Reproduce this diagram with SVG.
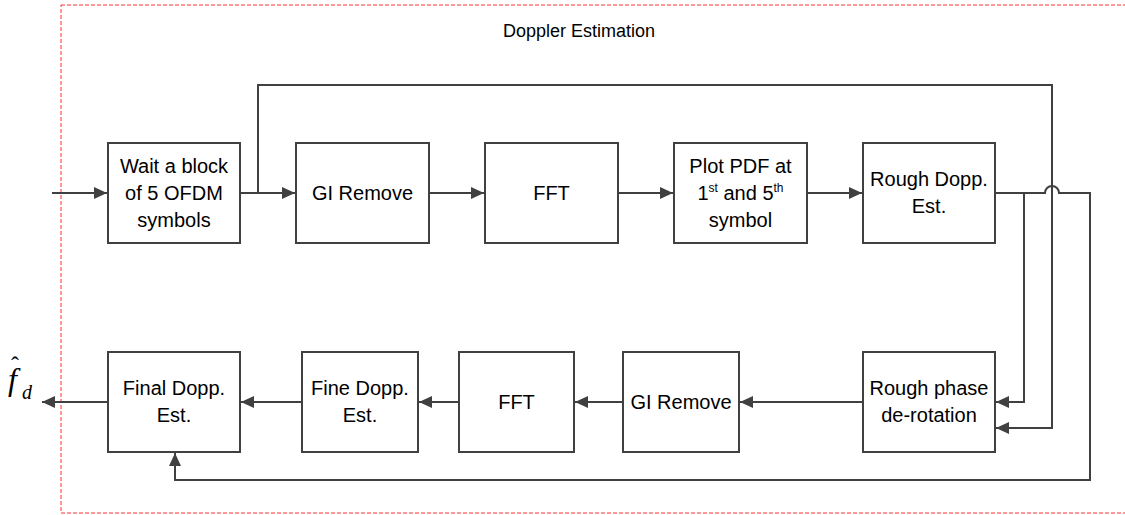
<svg xmlns="http://www.w3.org/2000/svg" width="1125" height="515" viewBox="0 0 1125 515">
<style>
.box{fill:#fff;stroke:#404040;stroke-width:2}
.t{font-family:"Liberation Sans",Arial,sans-serif;font-size:20px;fill:#000;text-anchor:middle}
.lbl{font-family:"Liberation Sans",Arial,sans-serif;font-size:18px;fill:#000}
.c{fill:none;stroke:#404040;stroke-width:2}
.math{font-family:"Liberation Serif","Times New Roman",serif;font-style:italic;fill:#000}
</style>
<defs>
<marker id="arr" markerUnits="userSpaceOnUse" markerWidth="14" markerHeight="12" refX="13" refY="6" orient="auto">
<path d="M0,0 L13,6 L0,12 z" fill="#404040"/>
</marker>
</defs>
<rect x="61" y="5" width="1080" height="508" fill="none" stroke="#ff3333" stroke-width="1" stroke-dasharray="4 2"/>
<text class="lbl" x="503" y="37">Doppler Estimation</text>

<g id="connectors">
<path class="c" d="M52,193 H107" marker-end="url(#arr)"/>
<path class="c" d="M240,193 H295" marker-end="url(#arr)"/>
<path class="c" d="M258,193 V85 H1052 V428 H996" marker-end="url(#arr)"/>
<path class="c" d="M429,193 H484" marker-end="url(#arr)"/>
<path class="c" d="M618,193 H673" marker-end="url(#arr)"/>
<path class="c" d="M807,193 H862" marker-end="url(#arr)"/>
<path class="c" d="M995,193 H1045 A7,7 0 0 1 1059,193 H1090 V480 H175 V453" marker-end="url(#arr)"/>
<path class="c" d="M1024,193 V402 H996" marker-end="url(#arr)"/>
<path class="c" d="M863,402 H740" marker-end="url(#arr)"/>
<path class="c" d="M623,402 H575" marker-end="url(#arr)"/>
<path class="c" d="M459,402 H419" marker-end="url(#arr)"/>
<path class="c" d="M302,402 H241" marker-end="url(#arr)"/>
<path class="c" d="M108,402 H42" marker-end="url(#arr)"/>
</g>

<g id="wait">
<rect class="box" x="108" y="143" width="132" height="100"/>
<text class="t" x="174" y="173">Wait a block</text>
<text class="t" x="174" y="200">of 5 OFDM</text>
<text class="t" x="174" y="227">symbols</text>
</g>
<g id="gi1">
<rect class="box" x="296" y="143" width="133" height="100"/>
<text class="t" x="362.5" y="200">GI Remove</text>
</g>
<g id="fft1">
<rect class="box" x="485" y="143" width="133" height="100"/>
<text class="t" x="551.5" y="200">FFT</text>
</g>
<g id="plot">
<rect class="box" x="674" y="143" width="133" height="100"/>
<text class="t" x="740.5" y="173">Plot PDF at</text>
<text class="t" x="740.5" y="200">1<tspan font-size="12" dy="-8">st</tspan><tspan dy="8"> and 5</tspan><tspan font-size="12" dy="-8">th</tspan></text>
<text class="t" x="740.5" y="227">symbol</text>
</g>
<g id="rough">
<rect class="box" x="863" y="143" width="132" height="100"/>
<text class="t" x="929" y="186">Rough Dopp.</text>
<text class="t" x="929" y="213">Est.</text>
</g>
<g id="derot">
<rect class="box" x="863" y="352" width="132" height="100"/>
<text class="t" x="929" y="395">Rough phase</text>
<text class="t" x="929" y="422">de-rotation</text>
</g>
<g id="gi2">
<rect class="box" x="623" y="352" width="116" height="100"/>
<text class="t" x="681" y="409">GI Remove</text>
</g>
<g id="fft2">
<rect class="box" x="459" y="352" width="115" height="100"/>
<text class="t" x="516.5" y="409">FFT</text>
</g>
<g id="fine">
<rect class="box" x="302" y="352" width="116" height="100"/>
<text class="t" x="360" y="395">Fine Dopp.</text>
<text class="t" x="360" y="422">Est.</text>
</g>
<g id="final">
<rect class="box" x="108" y="352" width="132" height="100"/>
<text class="t" x="174" y="395">Final Dopp.</text>
<text class="t" x="174" y="422">Est.</text>
</g>
<g id="output">
<text class="math" x="8" y="390" font-size="32">f<tspan x="11" y="373" font-size="24" font-style="normal">ˆ</tspan><tspan x="22" y="399" font-size="20">d</tspan></text>
</g>
</svg>
